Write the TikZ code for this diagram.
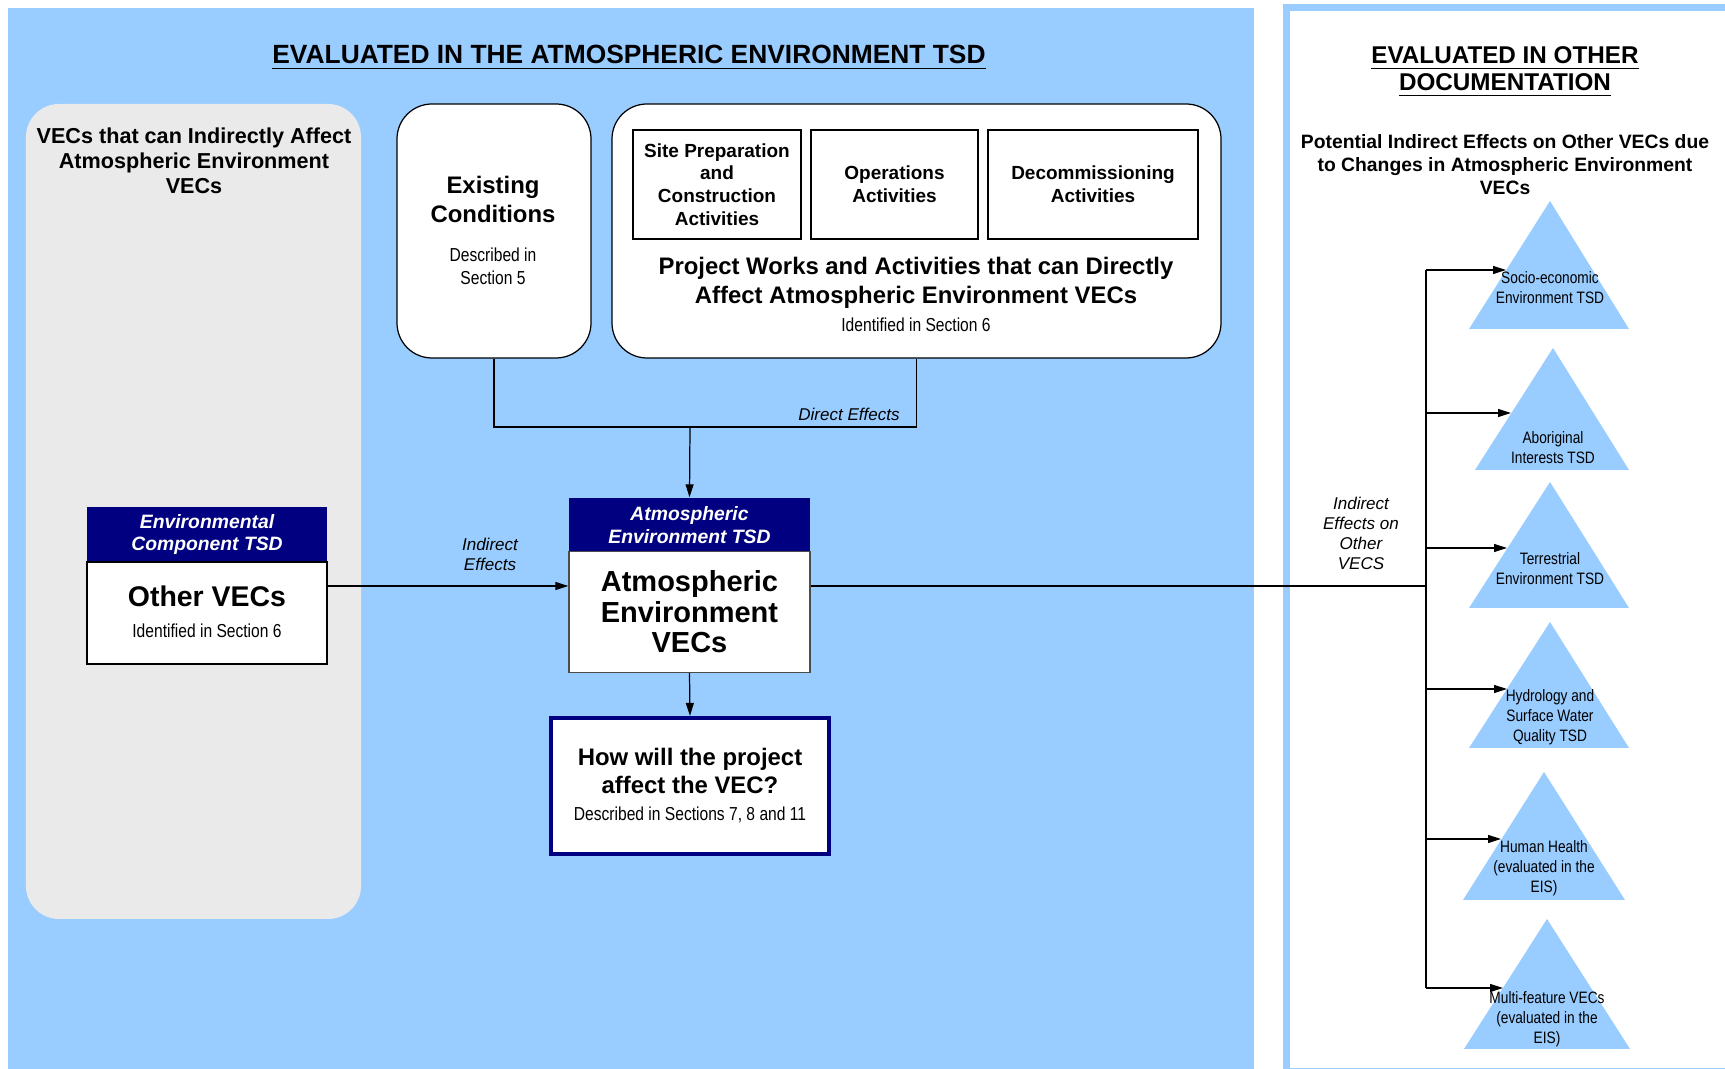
\documentclass[tikz,border=0pt]{standalone}
\usepackage{fontspec}
\setmainfont{Liberation Sans}
\newfontfamily\narrowfont[FakeStretch=0.83]{Liberation Sans}
\usepackage{tikz}
\usetikzlibrary{positioning, arrows.meta, calc}
\definecolor{skyblue}{RGB}{153,204,255}
\definecolor{tsdnavy}{RGB}{0,0,128}
\definecolor{panelgray}{RGB}{234,234,234}

\begin{document}
\begin{tikzpicture}[
    box/.style={draw, fill=white, line width=0.35pt, inner sep=0pt},
    tsdhead/.style={fill=tsdnavy, text=white, inner sep=0pt, align=center, font=\fontsize{5.5}{6.5}\selectfont\bfseries\itshape},
    effectlbl/.style={align=center, font=\fontsize{4.85}{5.7}\selectfont\itshape},
    narrowtxt/.style={align=center, font=\narrowfont\fontsize{5.35}{6.5}\selectfont},
    trilbl/.style={align=center, font=\narrowfont\fontsize{4.7}{5.7}\selectfont},
    tri/.style={fill=skyblue, draw=none},
    arr/.style={-{Triangle[length=1.3mm, width=0.8mm]}, line width=0.35pt}
]
    \useasboundingbox (0,0) rectangle (17.25,-10.69);

    % === FONDS DES DEUX ZONES ===
    \fill[skyblue] (0.08,-0.08) rectangle (12.54,-10.69);
    \draw[skyblue, fill=white, line width=0.7mm] (12.86,-0.075) rectangle (17.28,-10.72);

    \node[font=\fontsize{7.5}{9}\selectfont\bfseries] (titleatm) at (6.29,-0.58) {\underline{EVALUATED IN THE ATMOSPHERIC ENVIRONMENT TSD}};
    \node[font=\fontsize{6.9}{7.7}\selectfont\bfseries, align=center] (titleother) at (15.05,-0.72) {\underline{EVALUATED IN OTHER}\\\underline{DOCUMENTATION}};

    % === VECs INDIRECTS (PANNEAU GRIS) ===
    \node[fill=panelgray, rounded corners=0.33cm, minimum width=3.35cm, minimum height=8.15cm] (vecpanel) at (1.935,-5.115) {};
    \node[font=\fontsize{6.15}{7.1}\selectfont\bfseries, align=center] (vectitle) at (1.94,-1.61) {VECs that can Indirectly Affect\\Atmospheric Environment\\VECs};

    \node[tsdhead, minimum width=2.40cm, minimum height=0.55cm] (envhead) at (2.07,-5.345) {Environmental\\Component TSD};
    \node[box, minimum width=2.40cm, minimum height=1.02cm] (envbody) at (2.07,-6.13) {};
    \node[font=\fontsize{8.1}{9}\selectfont\bfseries] (otherlbl) at (2.07,-5.96) {Other VECs};
    \node[narrowtxt] (othersub) at (2.07,-6.31) {Identified in Section 6};

    % === CONDITIONS EXISTANTES ===
    \node[box, rounded corners=0.35cm, minimum width=1.94cm, minimum height=2.54cm] (existing) at (4.94,-2.31) {};
    \node[font=\fontsize{6.8}{8}\selectfont\bfseries, align=center] (existtitle) at (4.93,-1.995) {Existing\\Conditions};
    \node[narrowtxt] (existsub) at (4.93,-2.66) {Described in\\Section 5};

    % === TRAVAUX ET ACTIVITES DU PROJET ===
    \node[box, rounded corners=0.35cm, minimum width=6.09cm, minimum height=2.54cm] (projbox) at (9.165,-2.31) {};
    \node[box, minimum width=1.68cm, minimum height=1.09cm, align=center, font=\fontsize{5.4}{6.5}\selectfont\bfseries] (sitebox) at (7.17,-1.845) {Site Preparation\\and\\Construction\\Activities};
    \node[box, minimum width=1.67cm, minimum height=1.09cm, align=center, font=\fontsize{5.4}{6.5}\selectfont\bfseries] (opsbox) at (8.945,-1.845) {Operations\\Activities};
    \node[box, minimum width=2.10cm, minimum height=1.09cm, align=center, font=\fontsize{5.4}{6.5}\selectfont\bfseries] (decombox) at (10.93,-1.845) {Decommissioning\\Activities};
    \node[font=\fontsize{6.8}{8.2}\selectfont\bfseries, align=center] (projtitle) at (9.16,-2.83) {Project Works and Activities that can Directly\\Affect Atmospheric Environment VECs};
    \node[narrowtxt] (projsub) at (9.16,-3.25) {Identified in Section 6};

    % === VECs ATMOSPHERIQUES ===
    \node[tsdhead, minimum width=2.41cm, minimum height=0.55cm] (atmhead) at (6.895,-5.255) {Atmospheric\\Environment TSD};
    \node[box, draw=black!70, minimum width=2.41cm, minimum height=1.21cm, align=center, font=\fontsize{8.25}{8.7}\selectfont\bfseries] (atmbody) at (6.895,-6.12) {Atmospheric\\Environment\\VECs};

    \node[box, draw=tsdnavy, line width=1.2pt, minimum width=2.78cm, minimum height=1.36cm] (howbox) at (6.90,-7.86) {};
    \node[font=\fontsize{6.8}{8}\selectfont\bfseries, align=center] (howtitle) at (6.90,-7.71) {How will the project\\affect the VEC?};
    \node[narrowtxt] (howsub) at (6.90,-8.15) {Described in Sections 7, 8 and 11};

    % Effets directs
    \coordinate (merge) at (6.90,-4.27);
    \draw[line width=0.35pt] (existing.south) |- (merge) -| (projbox.south);
    \draw[arr] (merge) -- (atmhead.north);
    \node[effectlbl] (directlbl) at (8.49,-4.14) {Direct Effects};

    % Effets indirects
    \coordinate (vecline) at (0,-5.86);
    \draw[arr] (envbody.east |- vecline) -- (atmbody.west |- vecline);
    \node[effectlbl] (indirlbl) at (4.90,-5.545) {Indirect\\Effects};
    \draw[arr] (atmbody.south) -- (howbox.north);

    % === AUTRE DOCUMENTATION ===
    \node[font=\fontsize{5.5}{6.5}\selectfont\bfseries, align=center] (othersubt) at (15.05,-1.645) {Potential Indirect Effects on Other VECs due\\to Changes in Atmospheric Environment\\VECs};

    % Triangles
    \fill[tri] (15.50,-2.01) -- (16.29,-3.29) -- (14.69,-3.29) -- cycle;
    \node[trilbl] (socio) at (15.50,-2.88) {Socio-economic\\Environment TSD};
    \fill[tri] (15.53,-3.48) -- (16.29,-4.70) -- (14.75,-4.70) -- cycle;
    \node[trilbl] (abor) at (15.53,-4.48) {Aboriginal\\Interests TSD};
    \fill[tri] (15.50,-4.82) -- (16.29,-6.08) -- (14.69,-6.08) -- cycle;
    \node[trilbl] (terr) at (15.50,-5.685) {Terrestrial\\Environment TSD};
    \fill[tri] (15.50,-6.22) -- (16.29,-7.48) -- (14.69,-7.48) -- cycle;
    \node[trilbl] (hydro) at (15.50,-7.17) {Hydrology and\\Surface Water\\Quality TSD};
    \fill[tri] (15.44,-7.72) -- (16.25,-9.00) -- (14.63,-9.00) -- cycle;
    \node[trilbl] (health) at (15.44,-8.68) {Human Health\\(evaluated in the\\EIS)};
    \fill[tri] (15.47,-9.19) -- (16.30,-10.49) -- (14.64,-10.49) -- cycle;
    \node[trilbl] (multi) at (15.47,-10.19) {Multi-feature VECs\\(evaluated in the\\EIS)};

    % Pointes des fleches sur les triangles
    \coordinate (tipsocio) at (15.06,-2.70);
    \coordinate (tipabor) at (15.11,-4.13);
    \coordinate (tipterr) at (15.07,-5.48);
    \coordinate (tiphydro) at (15.07,-6.89);
    \coordinate (tiphealth) at (15.01,-8.39);
    \coordinate (tipmulti) at (15.03,-9.88);

    % Tronc et branches
    \coordinate (hub) at (14.26,-5.86);
    \draw[line width=0.6pt] (atmbody.east |- vecline) -- (hub);
    \draw[line width=0.35pt] (tipsocio -| hub) -- (tipmulti -| hub);
    \draw[arr] (tipsocio -| hub) -- (tipsocio);
    \draw[arr] (tipabor -| hub) -- (tipabor);
    \draw[arr] (tipterr -| hub) -- (tipterr);
    \draw[arr] (tiphydro -| hub) -- (tiphydro);
    \draw[arr] (tiphealth -| hub) -- (tiphealth);
    \draw[arr] (tipmulti -| hub) -- (tipmulti);
    \node[effectlbl] (indirother) at (13.61,-5.33) {Indirect\\Effects on\\Other\\VECS};

\end{tikzpicture}
\end{document}
